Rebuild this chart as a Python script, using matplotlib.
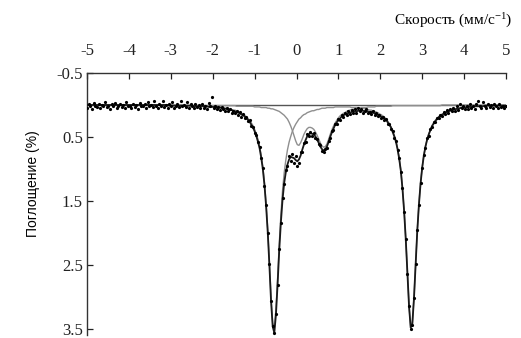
import numpy as np
import matplotlib
matplotlib.use('Agg')
import matplotlib.pyplot as plt

# Mossbauer spectrum: 256 velocity channels from -5 to 5 mm/s
velocity = np.linspace(-5, 5, 256)

absorption = [
    0.04, -0.01, 0.02, 0.06, -0.03, 0.01, 0.03, -0.02, 0.05, 0.00,
    0.02, -0.04, 0.03, 0.01, 0.07, -0.01, 0.02, -0.03, 0.04, 0.01,
    -0.02, 0.03, 0.00, 0.05, -0.05, 0.02, 0.01, 0.04, -0.02, 0.03,
    0.00, 0.06, -0.03, 0.01, 0.02, -0.01, 0.05, -0.04, 0.02, 0.00,
    0.03, -0.06, 0.01, 0.04, -0.02, 0.02, -0.07, 0.03, 0.00, 0.05,
    -0.01, 0.02, -0.05, 0.04, 0.01, -0.02, 0.03, -0.06, 0.02, 0.00,
    0.03, -0.04, 0.05, -0.02, 0.02, 0.04, -0.01, 0.03, 0.00, 0.05,
    -0.02, 0.04, 0.01, 0.06, -0.03, 0.02, -0.12, 0.05, 0.01, 0.07,
    0.03, 0.08, 0.03, 0.07, 0.10, 0.05, 0.09, 0.07, 0.12, 0.09,
    0.13, 0.09, 0.15, 0.11, 0.18, 0.14, 0.21, 0.19, 0.25, 0.24,
    0.33, 0.34, 0.43, 0.47, 0.58, 0.66, 0.83, 0.99, 1.26, 1.57,
    2.00, 2.49, 3.07, 3.45, 3.57, 3.26, 2.82, 2.25, 1.85, 1.46,
    1.24, 1.02, 0.96, 0.79, 0.88, 0.76, 0.90, 0.79, 0.95, 0.91,
    0.74, 0.74, 0.59, 0.58, 0.46, 0.49, 0.42, 0.48, 0.44, 0.52,
    0.53, 0.61, 0.63, 0.72, 0.73, 0.68, 0.67, 0.56, 0.51, 0.41,
    0.39, 0.29, 0.29, 0.22, 0.23, 0.15, 0.18, 0.12, 0.16, 0.10,
    0.14, 0.08, 0.12, 0.07, 0.12, 0.05, 0.10, 0.07, 0.13, 0.09,
    0.07, 0.12, 0.11, 0.14, 0.10, 0.16, 0.12, 0.17, 0.15, 0.21,
    0.18, 0.23, 0.22, 0.29, 0.30, 0.37, 0.41, 0.51, 0.56, 0.70,
    0.83, 1.04, 1.30, 1.67, 2.09, 2.64, 3.14, 3.50, 3.43, 3.01,
    2.49, 1.96, 1.57, 1.22, 0.99, 0.78, 0.67, 0.52, 0.48, 0.38,
    0.35, 0.27, 0.26, 0.20, 0.21, 0.15, 0.17, 0.11, 0.14, 0.08,
    0.12, 0.06, 0.10, 0.04, 0.09, 0.02, 0.08, -0.01, 0.05, 0.02,
    0.06, 0.01, 0.06, -0.02, 0.05, 0.01, 0.06, -0.02, -0.06, 0.01,
    0.05, -0.04, 0.02, 0.04, -0.01, 0.03, 0.00, 0.05, -0.02, 0.02,
    0.04, -0.01, 0.03, 0.01, 0.04, 0.02,
]

# total fit (black envelope)
fit_total = [
    0.00, 0.00, 0.00, 0.00, 0.00, 0.00, 0.00, 0.00, 0.00, 0.00,
    0.00, 0.00, 0.00, 0.00, 0.00, 0.00, 0.00, 0.00, 0.00, 0.00,
    0.00, 0.00, 0.00, 0.00, 0.00, 0.00, 0.00, 0.00, 0.00, 0.00,
    0.00, 0.00, 0.00, 0.00, 0.00, 0.00, 0.00, 0.00, 0.00, 0.00,
    0.00, 0.00, 0.00, 0.00, 0.00, 0.00, 0.00, 0.00, 0.00, 0.00,
    0.01, 0.01, 0.01, 0.01, 0.01, 0.01, 0.01, 0.01, 0.01, 0.01,
    0.01, 0.01, 0.01, 0.01, 0.02, 0.02, 0.02, 0.02, 0.02, 0.02,
    0.02, 0.02, 0.02, 0.02, 0.03, 0.03, 0.03, 0.03, 0.04, 0.04,
    0.04, 0.04, 0.05, 0.05, 0.06, 0.06, 0.07, 0.08, 0.08, 0.09,
    0.10, 0.11, 0.12, 0.13, 0.15, 0.16, 0.18, 0.21, 0.23, 0.26,
    0.31, 0.35, 0.41, 0.48, 0.57, 0.67, 0.82, 1.00, 1.25, 1.58,
    1.99, 2.50, 3.06, 3.46, 3.56, 3.27, 2.80, 2.27, 1.83, 1.48,
    1.22, 1.05, 0.93, 0.85, 0.81, 0.82, 0.83, 0.86, 0.88, 0.85,
    0.79, 0.70, 0.62, 0.55, 0.49, 0.46, 0.44, 0.45, 0.46, 0.49,
    0.54, 0.59, 0.65, 0.69, 0.71, 0.70, 0.65, 0.58, 0.50, 0.43,
    0.37, 0.31, 0.27, 0.24, 0.21, 0.18, 0.16, 0.15, 0.14, 0.13,
    0.12, 0.11, 0.10, 0.10, 0.10, 0.09, 0.09, 0.09, 0.09, 0.10,
    0.10, 0.10, 0.11, 0.11, 0.12, 0.13, 0.14, 0.15, 0.16, 0.18,
    0.19, 0.21, 0.23, 0.27, 0.31, 0.35, 0.42, 0.49, 0.57, 0.69,
    0.84, 1.03, 1.31, 1.66, 2.10, 2.63, 3.15, 3.48, 3.42, 3.02,
    2.48, 1.97, 1.56, 1.23, 0.98, 0.79, 0.65, 0.54, 0.46, 0.39,
    0.33, 0.29, 0.25, 0.22, 0.19, 0.17, 0.15, 0.14, 0.12, 0.11,
    0.10, 0.09, 0.08, 0.07, 0.07, 0.06, 0.06, 0.05, 0.04, 0.04,
    0.04, 0.04, 0.03, 0.03, 0.03, 0.03, 0.02, 0.02, 0.02, 0.02,
    0.02, 0.02, 0.01, 0.01, 0.01, 0.01, 0.01, 0.01, 0.01, 0.01,
    0.01, 0.01, 0.01, 0.01, 0.01, 0.01,
]

# doublet 1 (small, lines near 0.04 and 0.66 mm/s) - grey
fit_doublet1 = [
    0.00, 0.00, 0.00, 0.00, 0.00, 0.00, 0.00, 0.00, 0.00, 0.00,
    0.00, 0.00, 0.00, 0.00, 0.00, 0.00, 0.00, 0.00, 0.00, 0.00,
    0.00, 0.00, 0.00, 0.00, 0.00, 0.00, 0.00, 0.00, 0.00, 0.00,
    0.00, 0.00, 0.00, 0.00, 0.00, 0.00, 0.00, 0.00, 0.00, 0.00,
    0.00, 0.00, 0.00, 0.00, 0.00, 0.00, 0.00, 0.00, 0.00, 0.00,
    0.00, 0.00, 0.00, 0.00, 0.00, 0.00, 0.00, 0.00, 0.00, 0.00,
    0.01, 0.01, 0.01, 0.01, 0.01, 0.01, 0.01, 0.01, 0.01, 0.01,
    0.01, 0.01, 0.01, 0.01, 0.01, 0.01, 0.01, 0.01, 0.01, 0.01,
    0.01, 0.01, 0.01, 0.01, 0.01, 0.01, 0.01, 0.01, 0.01, 0.01,
    0.01, 0.02, 0.02, 0.02, 0.02, 0.02, 0.02, 0.02, 0.02, 0.02,
    0.02, 0.02, 0.03, 0.03, 0.03, 0.03, 0.04, 0.04, 0.04, 0.04,
    0.05, 0.05, 0.06, 0.06, 0.07, 0.08, 0.09, 0.10, 0.12, 0.14,
    0.16, 0.19, 0.22, 0.27, 0.33, 0.40, 0.48, 0.56, 0.62, 0.63,
    0.59, 0.53, 0.46, 0.41, 0.37, 0.35, 0.35, 0.36, 0.38, 0.42,
    0.47, 0.53, 0.59, 0.64, 0.66, 0.65, 0.61, 0.54, 0.46, 0.39,
    0.33, 0.28, 0.24, 0.20, 0.17, 0.15, 0.13, 0.12, 0.10, 0.09,
    0.08, 0.07, 0.07, 0.06, 0.06, 0.05, 0.05, 0.04, 0.04, 0.04,
    0.04, 0.03, 0.03, 0.03, 0.03, 0.03, 0.02, 0.02, 0.02, 0.02,
    0.02, 0.02, 0.02, 0.02, 0.02, 0.02, 0.01, 0.01, 0.01, 0.01,
    0.01, 0.01, 0.01, 0.01, 0.01, 0.01, 0.01, 0.01, 0.01, 0.01,
    0.01, 0.01, 0.01, 0.01, 0.01, 0.01, 0.01, 0.01, 0.01, 0.01,
    0.01, 0.01, 0.01, 0.01, 0.01, 0.01, 0.00, 0.00, 0.00, 0.00,
    0.00, 0.00, 0.00, 0.00, 0.00, 0.00, 0.00, 0.00, 0.00, 0.00,
    0.00, 0.00, 0.00, 0.00, 0.00, 0.00, 0.00, 0.00, 0.00, 0.00,
    0.00, 0.00, 0.00, 0.00, 0.00, 0.00, 0.00, 0.00, 0.00, 0.00,
    0.00, 0.00, 0.00, 0.00, 0.00, 0.00,
]

# doublet 2 (large, lines near -0.54 and 2.74 mm/s) - grey
fit_doublet2 = [
    0.00, 0.00, 0.00, 0.00, 0.00, 0.00, 0.00, 0.00, 0.00, 0.00,
    0.00, 0.00, 0.00, 0.00, 0.00, 0.00, 0.00, 0.00, 0.00, 0.00,
    0.00, 0.00, 0.00, 0.00, 0.00, 0.00, 0.00, 0.00, 0.00, 0.00,
    0.00, 0.00, 0.00, 0.00, 0.00, 0.00, 0.00, 0.00, 0.00, 0.00,
    0.00, 0.00, 0.00, 0.00, 0.00, 0.00, 0.00, 0.00, 0.00, 0.00,
    0.01, 0.01, 0.01, 0.01, 0.01, 0.01, 0.01, 0.01, 0.01, 0.01,
    0.01, 0.01, 0.01, 0.01, 0.01, 0.01, 0.01, 0.01, 0.01, 0.01,
    0.01, 0.02, 0.02, 0.02, 0.02, 0.02, 0.02, 0.02, 0.03, 0.03,
    0.03, 0.03, 0.04, 0.04, 0.05, 0.05, 0.06, 0.06, 0.07, 0.08,
    0.08, 0.09, 0.10, 0.12, 0.13, 0.15, 0.16, 0.19, 0.21, 0.24,
    0.28, 0.32, 0.38, 0.45, 0.53, 0.64, 0.78, 0.96, 1.21, 1.54,
    1.94, 2.45, 3.00, 3.40, 3.49, 3.19, 2.71, 2.17, 1.72, 1.34,
    1.06, 0.86, 0.70, 0.58, 0.49, 0.41, 0.35, 0.30, 0.26, 0.22,
    0.20, 0.17, 0.15, 0.14, 0.12, 0.11, 0.10, 0.09, 0.09, 0.08,
    0.07, 0.07, 0.06, 0.05, 0.05, 0.05, 0.04, 0.04, 0.04, 0.04,
    0.04, 0.03, 0.03, 0.03, 0.03, 0.03, 0.03, 0.03, 0.03, 0.03,
    0.03, 0.04, 0.04, 0.04, 0.04, 0.04, 0.05, 0.05, 0.05, 0.06,
    0.06, 0.07, 0.08, 0.08, 0.09, 0.10, 0.11, 0.12, 0.14, 0.15,
    0.17, 0.19, 0.22, 0.25, 0.29, 0.34, 0.40, 0.47, 0.56, 0.68,
    0.83, 1.02, 1.30, 1.65, 2.09, 2.62, 3.14, 3.47, 3.41, 3.01,
    2.47, 1.96, 1.55, 1.22, 0.97, 0.78, 0.64, 0.54, 0.45, 0.39,
    0.32, 0.28, 0.24, 0.21, 0.19, 0.16, 0.15, 0.13, 0.12, 0.10,
    0.09, 0.08, 0.08, 0.07, 0.06, 0.06, 0.05, 0.05, 0.04, 0.04,
    0.03, 0.03, 0.03, 0.03, 0.02, 0.02, 0.02, 0.02, 0.02, 0.02,
    0.02, 0.02, 0.01, 0.01, 0.01, 0.01, 0.01, 0.01, 0.01, 0.01,
    0.01, 0.01, 0.01, 0.01, 0.01, 0.01,
]

x_ticks = [-5, -4, -3, -2, -1, 0, 1, 2, 3, 4, 5]
y_ticks = [-0.5, 0.5, 1.5, 2.5, 3.5]

plt.rcParams['font.family'] = 'Liberation Serif'
plt.rcParams['mathtext.default'] = 'regular'
plt.rcParams['axes.unicode_minus'] = False

fig = plt.figure(figsize=(5.21, 3.38), dpi=100)
ax = fig.add_axes([87 / 521, 2.6 / 338, 419 / 521, 262.4 / 338])

# baseline and fit components
ax.axhline(0, color='#555555', lw=1.0, zorder=1)
ax.plot(velocity, fit_doublet1, color='#8f8f8f', lw=1.0, zorder=2)
ax.plot(velocity, fit_doublet2, color='#8f8f8f', lw=1.0, zorder=2)
ax.plot(velocity, fit_total, color='#1a1a1a', lw=1.3, zorder=3)
ax.plot(velocity, absorption, 'o', color='black', ms=2.3, mew=0, zorder=4)

ax.set_xlim(-5, 5)
ax.set_ylim(3.6, -0.5)

ax.xaxis.tick_top()
ax.xaxis.set_label_position('top')
ax.set_xticks(x_ticks)
ax.set_xticklabels([str(t) for t in x_ticks])
ax.set_yticks(y_ticks)
ax.set_yticklabels([str(t) for t in y_ticks])
ax.tick_params(axis='both', direction='in', length=4, width=0.9,
               colors='#222222', labelsize=12)
ax.tick_params(axis='x', pad=10)
ax.tick_params(axis='y', pad=3)

for side in ['bottom', 'right']:
    ax.spines[side].set_visible(False)
for side in ['top', 'left']:
    ax.spines[side].set_color('#333333')
    ax.spines[side].set_linewidth(1.0)

ax.set_xlabel('Скорость (мм/с$^{-1}$)', fontsize=11)
ax.xaxis.set_label_coords(1.015, 1.2)
ax.xaxis.label.set_horizontalalignment('right')
ax.xaxis.label.set_verticalalignment('center')

ax.set_ylabel('Поглощение (%)', family='Liberation Sans', fontsize=10)
ax.yaxis.set_label_coords(-0.13, 0.58)
ax.yaxis.label.set_verticalalignment('center')

fig.savefig('out.png', dpi=100)
